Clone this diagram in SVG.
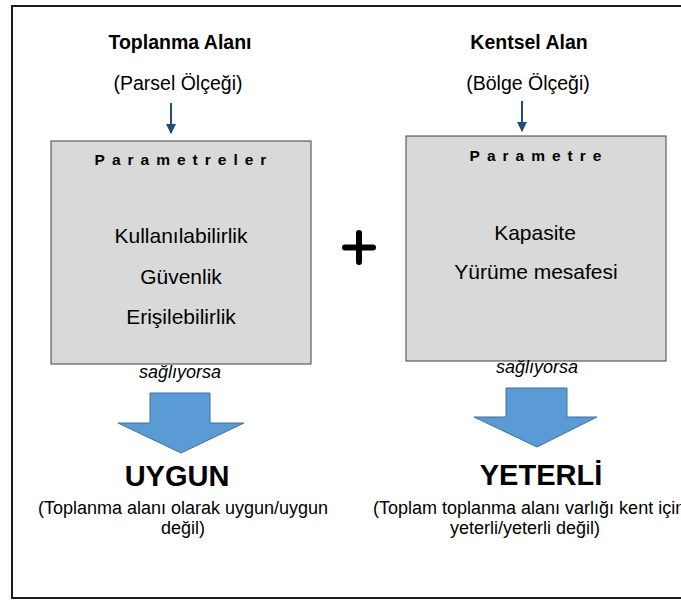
<svg xmlns="http://www.w3.org/2000/svg" width="681" height="601" viewBox="0 0 681 601">
<style>
text{font-family:"Liberation Sans",Arial,sans-serif;fill:#000;text-anchor:middle}
.h{font-weight:bold;font-size:19.5px}
.s{font-size:19.5px}
.p{font-weight:bold;font-size:15.5px;letter-spacing:7px}
.b{font-size:21px}
.i{font-style:italic;font-size:18px}
.big{font-weight:bold;font-size:29px}
.sub{font-size:18px}
.box{fill:#D9D9D9;stroke:#404040;stroke-width:1}
.fat{fill:#5B9BD5;stroke:#41719C;stroke-width:1}
.thin{stroke:#1F4E79;stroke-width:2;fill:none}
</style>
<defs>
<marker id="ah" viewBox="0 0 10 10" refX="9" refY="5" markerWidth="5" markerHeight="5" orient="auto" markerUnits="strokeWidth">
<path d="M0,0 L10,5 L0,10 z" fill="#1F4E79"/>
</marker>
</defs>
<rect x="12" y="6" width="720" height="592" fill="#fff" stroke="#1a1a1a" stroke-width="2"/>
<g id="title-left">
<text class="h" x="180" y="49">Toplanma Alanı</text>
<text class="s" x="178" y="90">(Parsel Ölçeği)</text>
</g>
<g id="title-right">
<text class="h" x="529" y="49">Kentsel Alan</text>
<text class="s" x="528" y="90">(Bölge Ölçeği)</text>
</g>
<g id="box-left">
<rect class="box" x="51" y="141" width="260" height="223"/>
<text class="p" x="184" y="165">Parametreler</text>
<text class="b" x="181" y="243">Kullanılabilirlik</text>
<text class="b" x="181" y="284">Güvenlik</text>
<text class="b" x="181" y="324">Erişilebilirlik</text>
</g>
<g id="box-right">
<rect class="box" x="406" y="136" width="260" height="225"/>
<text class="p" x="539" y="161">Parametre</text>
<text class="b" x="535" y="240">Kapasite</text>
<text class="b" x="536" y="279">Yürüme mesafesi</text>
</g>
<g id="plus">
<path d="M345,247.5 H373 M359,233 V262" stroke="#000" stroke-width="6" stroke-linecap="round"/>
</g>
<g id="result-left">
<text class="big" x="177" y="486">UYGUN</text>
<text class="sub" x="183" y="514">(Toplanma alanı olarak uygun/uygun</text>
<text class="sub" x="183" y="534">değil)</text>
</g>
<g id="result-right">
<text class="big" x="541" y="485">YETERLİ</text>
<text class="sub" x="373" y="514" style="text-anchor:start">(Toplam toplanma alanı varlığı kent için</text>
<text class="sub" x="525" y="534">yeterli/yeterli değil)</text>
</g>
<g id="connectors">
<line class="thin" x1="171" y1="103" x2="171" y2="133" marker-end="url(#ah)"/>
<line class="thin" x1="522" y1="101" x2="522" y2="131" marker-end="url(#ah)"/>
<text class="i" x="180" y="378">sağlıyorsa</text>
<text class="i" x="537" y="373">sağlıyorsa</text>
<polygon class="fat" points="150,393 210,393 210,423 244,423 181,453 118,423 150,423"/>
<polygon class="fat" points="506,388 567,388 567,417 597,417 537,447 474,417 506,417"/>
</g>
</svg>
